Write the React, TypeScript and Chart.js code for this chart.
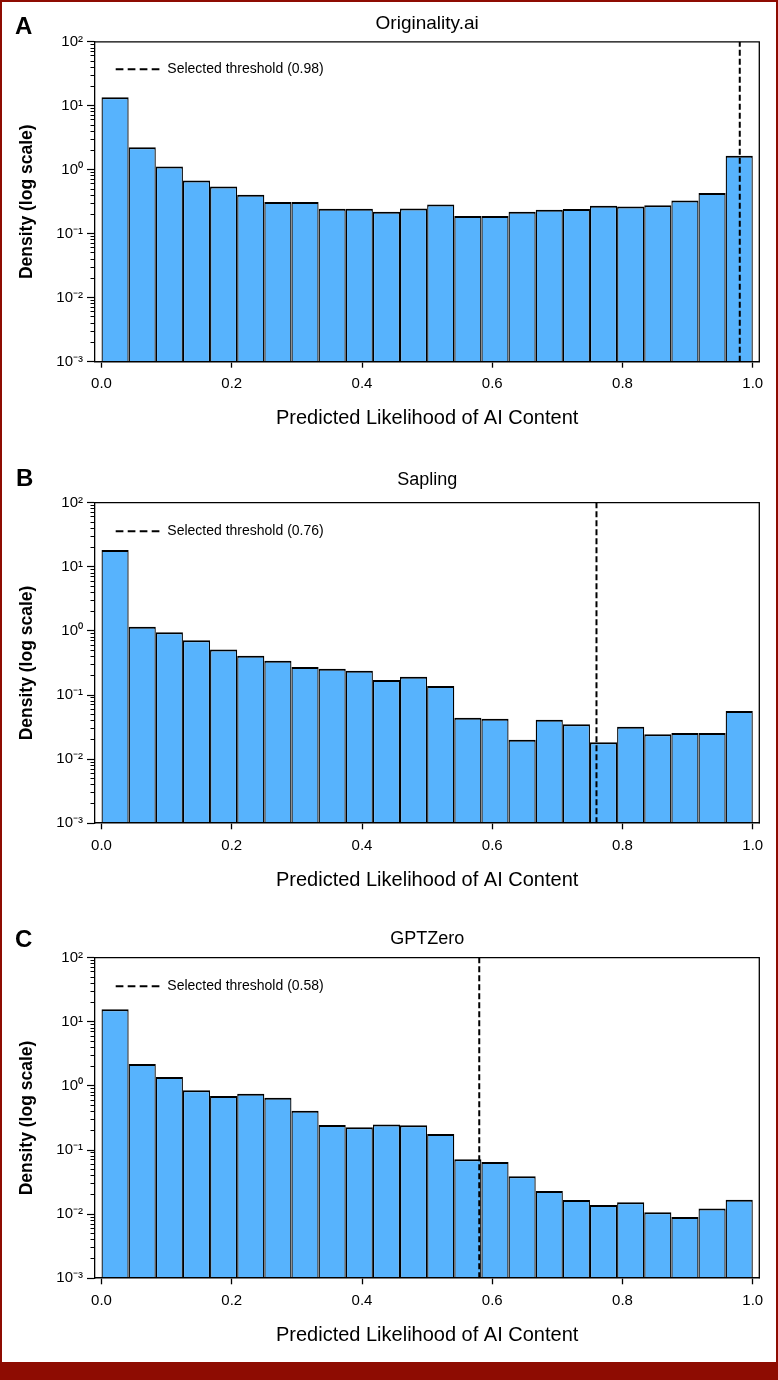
import React, { useEffect, useRef } from 'react';
import { Chart, registerables } from 'chart.js';

Chart.register(...registerables);

// ---------- data ----------
const BIN_COUNT = 24;
const BIN_CENTERS = Array.from({ length: BIN_COUNT }, (_, i) => (i + 0.5) / BIN_COUNT);

const ORIGINALITY_DENSITY = [
  13.6, 2.25, 1.12, 0.68, 0.547, 0.406, 0.312, 0.312, 0.245, 0.245, 0.22, 0.248,
  0.286, 0.19, 0.19, 0.22, 0.237, 0.243, 0.273, 0.267, 0.28, 0.33, 0.435, 1.65,
];
const SAPLING_DENSITY = [
  18.3, 1.16, 0.95, 0.713, 0.515, 0.41, 0.343, 0.273, 0.257, 0.239, 0.171, 0.193,
  0.138, 0.0443, 0.0427, 0.0201, 0.0412, 0.0349, 0.0183, 0.032, 0.0244, 0.0255, 0.0255, 0.0562,
];
const GPTZERO_DENSITY = [
  15.7, 2.2, 1.38, 0.853, 0.695, 0.757, 0.655, 0.41, 0.245, 0.226, 0.251, 0.243,
  0.178, 0.0716, 0.065, 0.0389, 0.0229, 0.0166, 0.0139, 0.0153, 0.0107, 0.009, 0.0123, 0.0168,
];

const PANEL_LETTERS = ['A', 'B', 'C'];
const PANEL_TITLES = ['Originality.ai', 'Sapling', 'GPTZero'];
const THRESHOLDS = [0.98, 0.76, 0.58];
const THRESHOLD_LABELS = ['Selected threshold (0.98)', 'Selected threshold (0.76)', 'Selected threshold (0.58)'];

const X_TICKS = [0, 0.2, 0.4, 0.6, 0.8, 1.0];
const X_TICK_LABELS = ['0.0', '0.2', '0.4', '0.6', '0.8', '1.0'];
const Y_TICKS = [1e-3, 1e-2, 1e-1, 1, 10, 100];
const Y_TICK_LABELS = ['10\u207B\u00B3', '10\u207B\u00B2', '10\u207B\u00B9', '10\u2070', '10\u00B9', '10\u00B2'];
const Y_MINOR_MULTIPLES = [2, 3, 4, 5, 6, 7, 8, 9];
const Y_MINOR_DECADES = [1e-3, 1e-2, 1e-1, 1, 10];
const Y_MINOR_TICKS = Y_MINOR_DECADES.flatMap((d) => Y_MINOR_MULTIPLES.map((m) => m * d));

const X_AXIS_TITLE = 'Predicted Likelihood of AI Content';
const Y_AXIS_TITLE = 'Density (log scale)';

const SERIES = [ORIGINALITY_DENSITY, SAPLING_DENSITY, GPTZERO_DENSITY];

// ---------- layout / style ----------
const FONT = "'Liberation Sans', Arial, Helvetica, sans-serif";
const BAR_FILL = '#57B3FD';
const RED = '#8E0C02';
const CANVAS_W = 778;
const PLOT_LEFT = 95;
const PLOT_RIGHT = 759.3;
const X_AXIS_H = 70;

const LAYOUT = [
  { top: 0, height: 450, plotTop: 41.8, plotBottom: 361.7, titleBaseline: 30, titleSize: 19, letterBaseline: 34.3, letterLeft: 15, legendDy: 27.5 },
  { top: 450, height: 455, plotTop: 502.7, plotBottom: 823.3, titleBaseline: 486, titleSize: 18, letterBaseline: 486.7, letterLeft: 16, legendDy: 28.6 },
  { top: 905, height: 457, plotTop: 957.7, plotBottom: 1278.3, titleBaseline: 944.3, titleSize: 18, letterBaseline: 947.7, letterLeft: 15, legendDy: 28.6 },
];

const framePlugin = {
  id: 'frame',
  afterDatasetsDraw(chart: any) {
    const { ctx, chartArea } = chart;
    ctx.save();
    ctx.strokeStyle = '#000';
    ctx.lineWidth = 1.3;
    ctx.beginPath();
    ctx.moveTo(chartArea.left, chartArea.top);
    ctx.lineTo(chartArea.right, chartArea.top);
    ctx.lineTo(chartArea.right, chartArea.bottom);
    ctx.stroke();
    ctx.restore();
  },
};

const thresholdLegendPlugin = {
  id: 'thresholdLegend',
  afterDraw(chart: any, _args: any, opts: any) {
    const { ctx, chartArea } = chart;
    const ds = chart.data.datasets.find((d: any) => d.type === 'line');
    if (!ds) return;
    const y = chartArea.top + opts.dy;
    ctx.save();
    ctx.strokeStyle = '#000';
    ctx.lineWidth = 2;
    ctx.setLineDash([7.7, 4.3]);
    ctx.beginPath();
    ctx.moveTo(chartArea.left + 20.7, y);
    ctx.lineTo(chartArea.left + 65, y);
    ctx.stroke();
    ctx.setLineDash([]);
    ctx.fillStyle = '#000';
    ctx.font = `14px ${FONT}`;
    ctx.textBaseline = 'middle';
    ctx.textAlign = 'left';
    ctx.fillText(ds.label, chartArea.left + 72.3, y);
    ctx.restore();
  },
};

function makeConfig(i: number): any {
  const L = LAYOUT[i];
  const plotTop = L.plotTop - L.top;
  const plotBottom = L.plotBottom - L.top;
  const lh = L.titleSize * 1.2;
  const tc = L.titleBaseline - L.top - 0.31 * L.titleSize;
  const titlePadTop = tc - lh / 2;
  const titlePadBottom = plotTop - tc - lh / 2;

  return {
    type: 'bar',
    data: {
      datasets: [
        {
          type: 'line',
          label: THRESHOLD_LABELS[i],
          data: [
            { x: THRESHOLDS[i], y: Y_TICKS[0] },
            { x: THRESHOLDS[i], y: Y_TICKS[Y_TICKS.length - 1] },
          ],
          borderColor: '#000',
          borderWidth: 2,
          borderDash: [6, 3],
          pointRadius: 0,
          fill: false,
          order: 0,
        },
        {
          type: 'bar',
          label: PANEL_TITLES[i],
          data: BIN_CENTERS.map((x, k) => ({ x, y: SERIES[i][k] })),
          backgroundColor: BAR_FILL,
          borderColor: '#000',
          borderWidth: { top: 2, left: 1.3, right: 1.3, bottom: 0 },
          borderSkipped: false,
          inflateAmount: 0,
          barPercentage: 1,
          categoryPercentage: 1,
          order: 1,
        },
      ],
    },
    options: {
      responsive: false,
      animation: false,
      events: [],
      layout: {
        padding: {
          left: 0,
          right: CANVAS_W - PLOT_RIGHT,
          top: 0,
          bottom: L.height - plotBottom - X_AXIS_H,
        },
      },
      plugins: {
        legend: { display: false },
        tooltip: { enabled: false },
        title: {
          display: true,
          text: PANEL_TITLES[i],
          fullSize: false,
          color: '#000',
          font: { size: L.titleSize, weight: 'normal', family: FONT, lineHeight: 1.2 },
          padding: { top: titlePadTop, bottom: titlePadBottom },
        },
        thresholdLegend: { dy: L.legendDy },
      },
      scales: {
        x: {
          type: 'linear',
          position: 'bottom',
          min: -0.01,
          max: 1.01,
          offset: false,
          afterBuildTicks: (s: any) => {
            s.ticks = X_TICKS.map((v) => ({ value: v }));
          },
          afterFit: (s: any) => {
            s.height = X_AXIS_H;
            s.paddingLeft = 0;
            s.paddingRight = 0;
          },
          grid: {
            display: true,
            offset: false,
            drawOnChartArea: false,
            drawTicks: true,
            tickLength: 6,
            tickWidth: 1.3,
            tickColor: '#000',
          },
          border: { display: true, color: '#000', width: 1.6, z: 1 },
          ticks: {
            autoSkip: false,
            maxRotation: 0,
            padding: 7.5,
            color: '#000',
            font: { size: 15, family: FONT, lineHeight: 1.2 },
            callback: (_v: any, idx: number) => X_TICK_LABELS[idx],
          },
          title: {
            display: true,
            text: X_AXIS_TITLE,
            color: '#000',
            font: { size: 20, family: FONT, lineHeight: 1.2 },
            padding: { top: 0, bottom: 1 },
          },
        },
        y: {
          type: 'logarithmic',
          position: 'left',
          weight: 1,
          min: Y_TICKS[0],
          max: Y_TICKS[Y_TICKS.length - 1],
          afterBuildTicks: (s: any) => {
            s.ticks = Y_TICKS.map((v) => ({ value: v, major: true }));
          },
          afterFit: (s: any) => {
            s.width = PLOT_LEFT;
            s.paddingTop = 0;
            s.paddingBottom = 0;
          },
          grid: {
            display: true,
            drawOnChartArea: false,
            drawTicks: true,
            tickLength: 8,
            tickWidth: 1.2,
            tickColor: '#000',
          },
          border: { display: true, color: '#000', width: 1.3, z: 1 },
          ticks: {
            autoSkip: false,
            padding: 4,
            color: '#000',
            font: { size: 15, family: FONT, lineHeight: 1.2 },
            callback: (v: any) => {
              const k = Y_TICKS.findIndex((t) => Math.abs(Math.log10(t) - Math.log10(v)) < 1e-6);
              return k >= 0 ? Y_TICK_LABELS[k] : '';
            },
          },
          title: {
            display: true,
            text: Y_AXIS_TITLE,
            color: '#000',
            font: { size: 17.5, weight: 'bold', family: FONT, lineHeight: 1.2 },
            padding: { top: 16.5, bottom: 0 },
          },
        },
        yMinor: {
          type: 'logarithmic',
          position: 'left',
          weight: 0,
          min: Y_TICKS[0],
          max: Y_TICKS[Y_TICKS.length - 1],
          afterBuildTicks: (s: any) => {
            s.ticks = Y_MINOR_TICKS.map((v) => ({ value: v }));
          },
          afterFit: (s: any) => {
            s.width = 0;
            s.paddingTop = 0;
            s.paddingBottom = 0;
          },
          grid: {
            display: true,
            drawOnChartArea: false,
            drawTicks: true,
            tickLength: 4.5,
            tickWidth: 1,
            tickColor: '#000',
          },
          border: { display: false },
          ticks: { display: false },
          title: { display: false },
        },
      },
    },
    plugins: [framePlugin, thresholdLegendPlugin],
  };
}

export default function App() {
  const refs = [useRef<HTMLCanvasElement>(null), useRef<HTMLCanvasElement>(null), useRef<HTMLCanvasElement>(null)];

  useEffect(() => {
    Chart.defaults.font.family = FONT;
    Chart.defaults.color = '#000';
    const charts = refs.map((r, i) => new Chart(r.current as HTMLCanvasElement, makeConfig(i)));
    return () => charts.forEach((c) => c.destroy());
  }, []);

  return (
    <div style={{ position: 'absolute', left: 0, top: 0, width: 778, height: 1380, background: '#fff', overflow: 'hidden' }}>
      {LAYOUT.map((L, i) => (
        <canvas
          key={'c' + i}
          ref={refs[i]}
          width={CANVAS_W}
          height={L.height}
          style={{ position: 'absolute', left: 0, top: L.top, width: CANVAS_W, height: L.height }}
        />
      ))}
      {LAYOUT.map((L, i) => (
        <div
          key={'l' + i}
          style={{
            position: 'absolute',
            left: L.letterLeft,
            top: L.letterBaseline - 20.3,
            font: `bold 24px ${FONT}`,
            lineHeight: '24px',
            color: '#000',
          }}
        >
          {PANEL_LETTERS[i]}
        </div>
      ))}
      <div
        style={{
          position: 'absolute',
          left: 0,
          top: 0,
          width: 778,
          height: 1380,
          boxSizing: 'border-box',
          borderLeft: `2px solid ${RED}`,
          borderRight: `2px solid ${RED}`,
          borderTop: `2px solid ${RED}`,
          pointerEvents: 'none',
        }}
      />
      <div style={{ position: 'absolute', left: 0, top: 1362, width: 778, height: 18, background: RED }} />
    </div>
  );
}
